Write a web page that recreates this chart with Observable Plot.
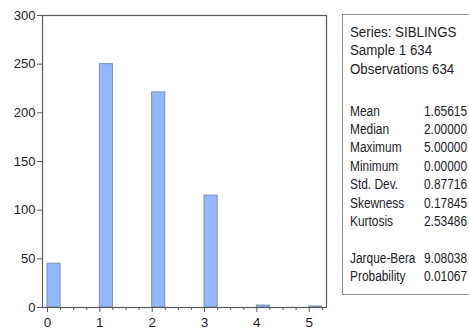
<!DOCTYPE html>
<html>
<head>
<meta charset="utf-8">
<script src="https://cdn.jsdelivr.net/npm/d3@7"></script>
<script src="https://cdn.jsdelivr.net/npm/@observablehq/plot@0.6"></script>
<style>
  html, body { margin: 0; padding: 0; background: #fff; }
  #wrap { position: relative; width: 469px; height: 332px; overflow: hidden; background: #fff; }
  #wrap svg { position: absolute; left: 0; top: 0; }
  .narrow { font-family: "Liberation Sans Narrow", "Arial Narrow", "Liberation Sans", Arial, sans-serif; }
  #stats {
    position: absolute; left: 342px; top: 14px; width: 160px; height: 281px;
    border: 1px solid #8a8a8a; box-sizing: border-box; color: #1c1c28;
    font-size: 14px;
  }
  #stats div { position: absolute; white-space: nowrap; line-height: 14px; transform-origin: 0 0; }
</style>
</head>
<body>
<div id="wrap"></div>
<script>
// Histogram of SIBLINGS (bin width 0.25, left edge at each value)
const siblings = [0, 1, 2, 3, 4, 5];
const counts = [45, 250, 221, 115, 2, 1];
const binWidth = 0.25;

// Axis ticks
const xTicks = [0, 1, 2, 3, 4, 5];
const xMinorTicks = d3.range(0, 5.26, 0.25).filter(t => !Number.isInteger(t));
const yTicks = [0, 50, 100, 150, 200, 250, 300];

// Descriptive statistics panel
const headerLines = ["Series: SIBLINGS", "Sample 1 634", "Observations 634"];
const statNames = ["Mean", "Median", "Maximum", "Minimum", "Std. Dev.", "Skewness", "Kurtosis"];
const statValues = ["1.65615", "2.00000", "5.00000", "0.00000", "0.87716", "0.17845", "2.53486"];
const testNames = ["Jarque-Bera", "Probability"];
const testValues = ["9.08038", "0.01067"];

const bins = siblings.map((s, i) => ({x1: s, x2: s + binWidth, count: counts[i]}));

const font = '"Liberation Sans Narrow", "Arial Narrow", "Liberation Sans", Arial, sans-serif';

const chart = Plot.plot({
  width: 469,
  height: 332,
  marginLeft: 42,
  marginRight: 143,
  marginTop: 15,
  marginBottom: 25,
  style: {fontFamily: font, fontSize: "13px", color: "#1c1c28", background: "transparent"},
  x: {domain: [-0.095, 5.33]},
  y: {domain: [0, 300]},
  marks: [
    Plot.rectY(bins, {x1: "x1", x2: "x2", y: "count", fill: "#92b9ff", stroke: "#7b8fb2", strokeWidth: 1}),
    Plot.frame({stroke: "#5a5a5a", strokeWidth: 1.2}),
    Plot.axisY({ticks: yTicks, tickSize: 5, tickPadding: 2, tickFormat: "d", label: null, stroke: "#5a5a5a"}),
    Plot.axisX({ticks: xTicks, tickSize: 5, tickPadding: 5, tickFormat: "d", label: null, stroke: "#5a5a5a", fontSize: 13.5}),
    Plot.axisX({ticks: xMinorTicks, tickSize: 3, tickFormat: () => "", label: null, stroke: "#5a5a5a"})
  ]
});

const wrap = document.getElementById("wrap");
wrap.appendChild(chart);

// Statistics box drawn as condensed text beside the chart
const box = document.createElement("div");
box.id = "stats";
box.className = "narrow";
wrap.appendChild(box);

const lineStep = 18.4;
function addText(text, left, top, squeeze) {
  const el = document.createElement("div");
  el.textContent = text;
  el.style.left = left + "px";
  el.style.top = top + "px";
  el.style.transform = `scaleX(${squeeze})`;
  box.appendChild(el);
}
function addLine(label, value, top, squeeze) {
  addText(label, 7, top, squeeze);
  if (value != null) addText(value, 81, top, 0.85);
}
headerLines.forEach((t, i) => addLine(t, null, 10 + i * lineStep, 0.95));
statNames.forEach((t, i) => addLine(t, statValues[i], 88.5 + i * lineStep, 0.85));
testNames.forEach((t, i) => addLine(t, testValues[i], 236 + i * lineStep, 0.85));
</script>
</body>
</html>
